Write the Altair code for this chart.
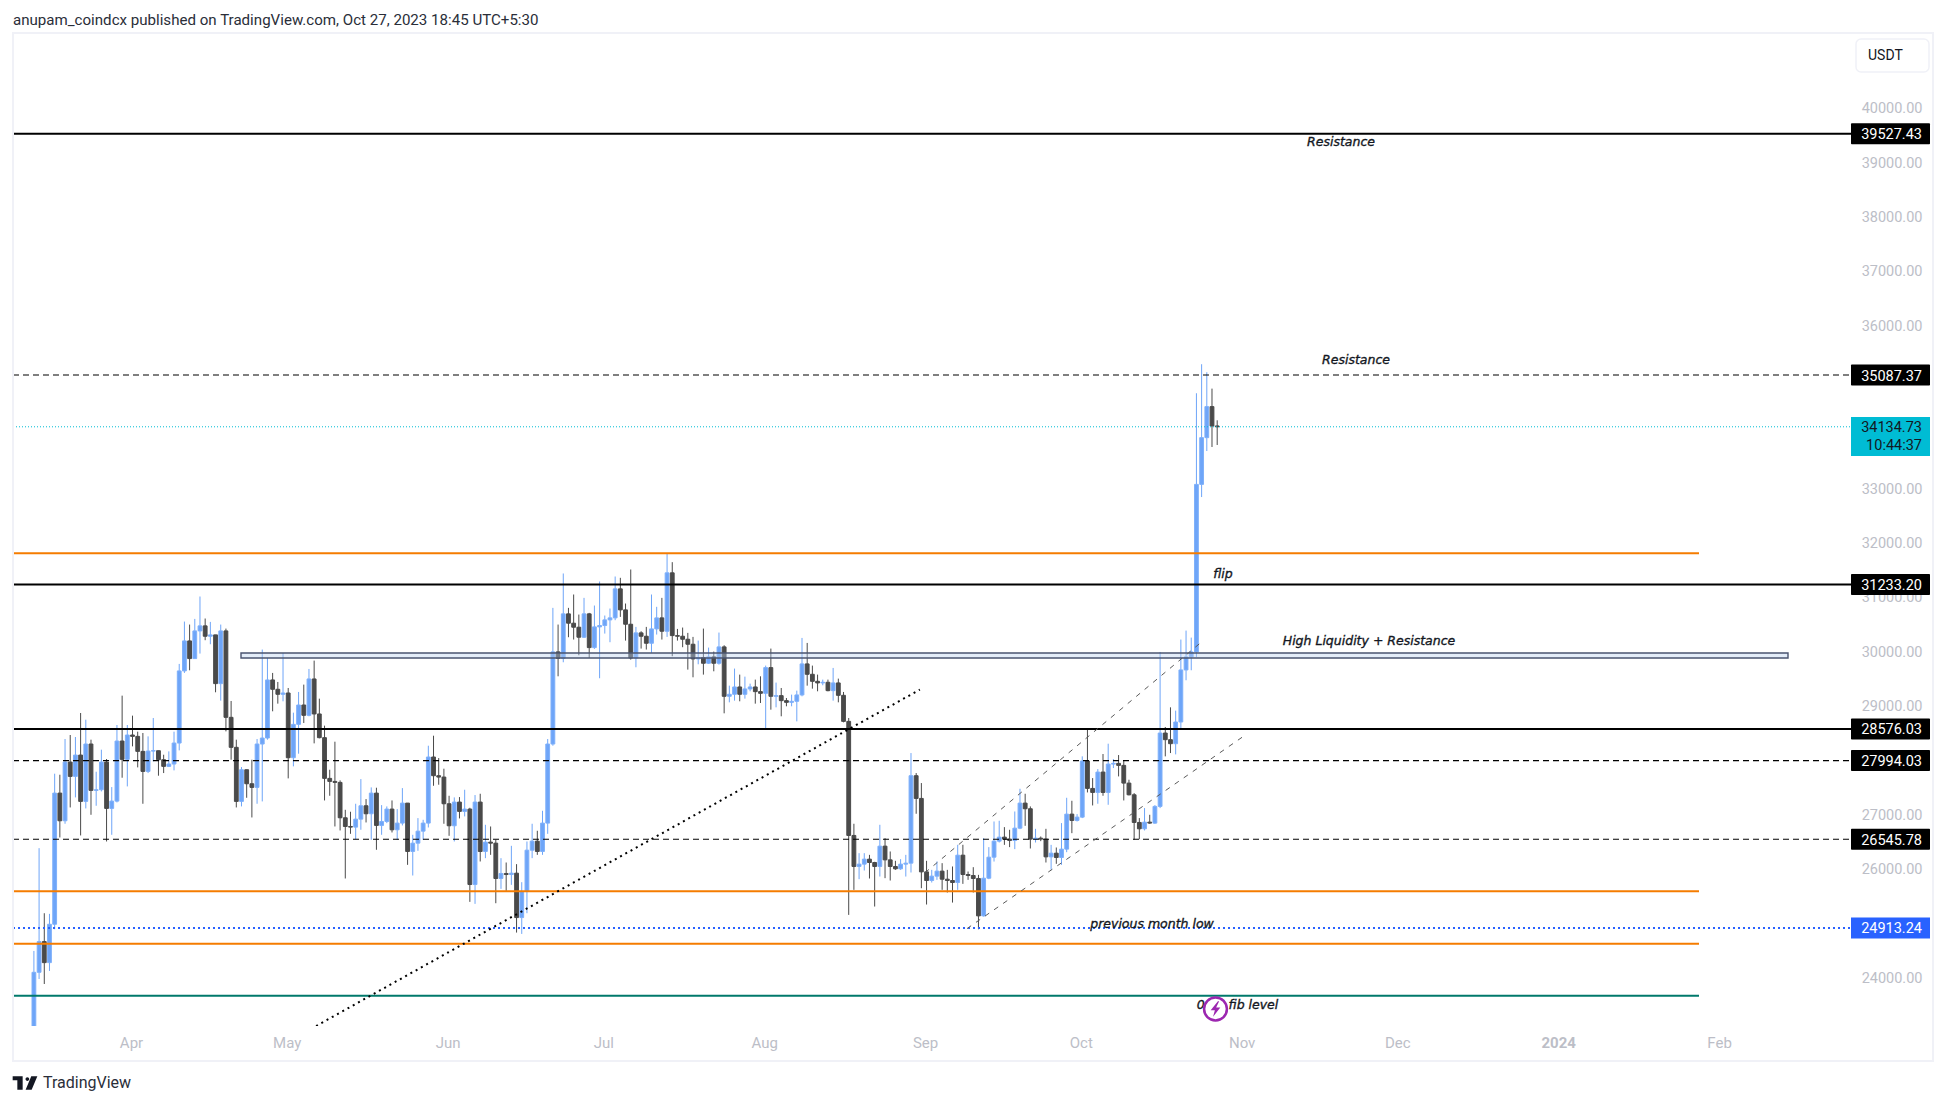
import altair as alt
import pandas as pd

first_open = 20630
close = [
 # Mar 13-31
 24098,24663,24276,24982,27395,26886,27966,27702,28095,27242,28298,27445,27457,27966,27113,27248,28353,28016,28464,
 # Apr
 28439,28163,27794,28169,28175,28009,27887,27930,28316,29643,30195,29870,30379,30472,30281,30306,29409,30379,28789,28237,27242,27825,27567,27500,28298,28408,29477,29305,29213,29237,
 # May
 28046,28660,29016,28826,29495,28851,28415,27666,27610,27592,26941,26781,26769,26916,27162,27015,27395,26800,26873,27101,26720,26843,27211,26321,26474,26695,26843,28059,27715,27690,27199,
 # Jun
 26794,27230,27058,27101,25713,27230,26321,26493,26474,25824,25916,25897,25922,25105,25584,26345,26511,26321,26843,28298,29993,29876,30693,30521,30447,30263,30693,30072,30453,30478,
 # Jul
 30582,30619,31153,30766,30502,29882,30343,30281,30152,30416,30619,30373,31448,30293,30281,30226,30134,29864,29888,29784,29901,29784,30085,29176,29213,29348,29213,29311,29348,29262,29231,
 # Aug
 29704,29176,29188,29096,29065,29084,29201,29772,29581,29452,29422,29434,29280,29422,29194,28715,26616,26045,26088,26180,26118,26045,26419,26167,26045,26002,26088,26106,27715,27297,25946,
 # Sep
 25787,25867,25959,25811,25787,25750,26253,25897,25879,25824,25136,25829,26216,26511,26585,26548,26523,26750,27211,27107,26548,26566,26548,26222,26290,26210,26364,27008,26892,26953,
 # Oct 1-27
 27985,27481,27407,27782,27407,27929,27942,27905,27579,27364,26855,26738,26861,26843,27150,28500,28378,28304,28703,29661,29900,29992,33075,33935,34506,34150,34134.73,
]
high = [
 24491,26382,25185,25173,27752,27733,28390,28464,28427,28869,28746,28378,27788,28194,28022,27506,28648,29188,28648,
 28820,28525,28501,28439,28777,28175,28101,28163,28525,29772,30551,30496,30600,31012,30607,30545,30306,30496,30422,29090,28378,27874,27825,28009,28390,30036,29882,29606,29440,29974,
 29329,28875,29256,29391,29679,29833,29133,28636,27825,28341,27629,27088,27052,27199,27653,27285,27500,27494,27174,27150,27260,27101,27487,27211,26628,26935,26904,28267,28451,28040,27844,
 27346,27316,27322,27457,27125,27359,27383,26812,26781,26536,26198,26118,26425,26088,25756,26505,26831,26702,27070,28390,30803,30496,31436,30803,31049,30680,30987,30711,30846,31288,
 30662,30791,31380,31356,30883,31509,30453,30373,30453,31049,30822,30987,31804,31644,30416,30441,30343,30269,30201,30422,30072,29999,30349,30115,29372,29686,29575,29538,29409,29483,29544,
 29741,30054,29428,29329,29145,29207,29280,30250,30158,29741,29575,29483,29483,29698,29501,29256,28777,26831,26290,26290,26259,26131,26812,26566,26321,26149,26180,26259,28132,27764,27580,
 26149,25983,26137,26106,25983,26045,26444,26444,25952,26032,25891,26566,26401,26873,26886,26769,26720,27057,27475,27383,27150,26738,26597,26738,26443,26394,26843,27309,27254,27008,
 28071,28580,27671,27837,28114,28304,28021,28095,27985,27641,27395,26935,27119,26996,27174,29992,28611,28973,28912,30220,30385,30256,34752,35286,35138,34837,34254,
]
low = [
 20500,23975,23883,24123,24890,26579,26831,27131,27316,26616,27113,26996,27162,27426,26505,26628,27223,27678,27518,
 28255,27868,27199,27764,27979,27715,27764,27874,27813,28181,29606,29655,29864,29962,30208,30134,29250,29096,28531,28009,27131,27150,27309,26947,27199,27242,28378,28900,29041,29084,
 27666,27887,28120,28685,28808,28310,28402,27260,27346,26781,26708,25824,26646,26548,26720,26855,26536,26352,26628,26843,26671,26536,26800,26075,25879,26333,26536,26763,27530,27549,26831,
 26609,26505,26929,26966,25394,25357,26137,26198,26259,25369,25633,25596,25707,24829,24804,25185,26198,26259,26259,26646,28267,29544,29802,30263,30220,29931,30250,29882,30048,29508,
 30330,30171,30576,30637,30201,29851,29710,30054,30036,29974,30312,30220,30269,29913,30201,30079,29667,29526,29765,29575,29772,29636,29759,28863,29065,29096,29084,29133,29268,29041,29053,
 28593,28930,28973,28808,28992,28992,28715,29176,29372,29317,29268,29379,29268,29096,29065,28697,25154,25615,25811,25971,25824,25308,25860,25830,25787,25983,25983,25860,25934,27015,25645,
 25345,25750,25799,25615,25566,25381,25615,25725,25799,25566,24890,25123,25811,26136,26486,26443,26401,26364,26732,26793,26376,26486,26511,26118,25983,26094,26075,26308,26658,26873,
 26935,27407,27168,27199,27346,27180,27856,27702,27260,27352,26536,26548,26708,26830,26830,27119,28071,28132,28107,28592,29471,29655,29900,32842,33689,33763,33800,
]
dates = pd.date_range("2023-03-13", periods=len(close), freq="D").strftime("%Y-%m-%d")
opens = [first_open] + close[:-1]

candles = pd.DataFrame({"date": dates, "open": opens, "close": close, "high": high, "low": low})
candles["dir"] = ["up" if c >= o else "down" for c, o in zip(close, opens)]

levels_long_solid = [39527.43, 31233.20, 28576.03]
levels_long_dash = [35087.37, 27994.03, 26545.78]
levels_orange = [31810, 25590, 24625]
level_teal = 23665
level_blue = 24913.24
level_last = 34134.73
tags = [39527.43, 35087.37, 31233.20, 28576.03, 27994.03, 26545.78]

month_ticks = ["2023-04-01","2023-05-01","2023-06-01","2023-07-01","2023-08-01","2023-09-01",
               "2023-10-01","2023-11-01","2023-12-01","2024-01-01","2024-02-01"]
price_ticks = [24000,26000,27000,29000,30000,31000,32000,33000,36000,37000,38000,39000,40000]

trend_dates = ["2023-05-06T09:00:00Z", "2023-08-30T17:00:00Z"]
trend_prices = [23110, 29299]
chan_up_dates = ["2023-08-31T17:00:00Z", "2023-10-23T17:00:00Z"]
chan_up_prices = [25931, 30153]
chan_lo_dates = ["2023-09-08T19:00:00Z", "2023-10-31T23:00:00Z"]
chan_lo_prices = [24902, 28433]

W, H = 1838, 993
OX, OY = 13, 33  # plot origin in the picture
FONT = "Roboto"
UP, DOWN = "#6ea5f8", "#4a4a4a"

x_enc = alt.X("date:T", title=None,
    scale=alt.Scale(type="utc", padding=0, domain=["2023-03-08T23:20:00Z", "2024-02-26T03:00:00Z"]),
    axis=alt.Axis(values=month_ticks, domain=False, ticks=False, grid=False, labelPadding=9.5, labelOffset=-1.5,
                  labelFont=FONT, labelFontSize=15, labelColor="#bcbec7", labelOverlap=False,
                  labelFlush=False,
                  labelExpr="utcmonth(datum.value)==0 ? '2024' : utcFormat(datum.value,'%b')",
                  labelFontWeight={"condition": {"test": "utcmonth(datum.value)==0", "value": "bold"}, "value": "normal"}))
y_scale = alt.Scale(domain=[23110, 41380], nice=False, zero=False)
y_axis = alt.Axis(values=price_ticks, orient="right", domain=False, ticks=False, grid=False,
                  format=".2f", labelAlign="right", labelPadding=71, labelOffset=0.7, labelFont=FONT, labelFontSize=14.5,
                  labelColor="#bcbec7", labelOverlap=False, labelFlush=False)
color_enc = alt.Color("dir:N", legend=None, scale=alt.Scale(domain=["up", "down"], range=[UP, DOWN]))

def Y(field="p"):
    return alt.Y(f"{field}:Q", scale=y_scale, axis=y_axis, title=None)

wicks = alt.Chart(candles).mark_rule(strokeWidth=1, clip=True).encode(x=x_enc, y=Y("low"), y2="high:Q", color=color_enc)
bodies = alt.Chart(candles).mark_bar(size=3.8, strokeWidth=1, clip=True, orient="vertical").encode(
    x=x_enc, y=Y("open"), y2="close:Q",
    color=color_enc, stroke=alt.Stroke("dir:N", legend=None, scale=alt.Scale(domain=["up", "down"], range=["#7fb0fa", DOWN])))

def hlines(prices, color, width, dash=None, x2=W):
    kw = {"strokeDash": dash} if dash else {}
    return alt.Chart(pd.DataFrame({"p": prices})).mark_rule(color=color, strokeWidth=width, **kw).encode(
        y=Y(), x=alt.value(0), x2=alt.value(x2))

def tline(ds, ps, color, width, dash):
    return alt.Chart(pd.DataFrame({"date": ds, "p": ps})).mark_line(color=color, strokeWidth=width, strokeDash=dash, clip=True).encode(
        x=x_enc, y=Y())

def label(text, px, py, size=12.5, color="#131722", align="center", font="DejaVu Sans", style="italic", stroke=0.35):
    kw = {"stroke": color, "strokeWidth": stroke} if stroke else {}
    return alt.Chart(pd.DataFrame({"t": [text]})).mark_text(
        font=font, fontSize=size, color=color, align=align, baseline="middle", fontStyle=style, **kw
    ).encode(text="t:N", x=alt.value(px - OX), y=alt.value(py - OY))

END = 1699 - OX
box = alt.Chart(pd.DataFrame({"p": [29974], "p2": [29882]})).mark_rect(
    fill="#bcd2f0", fillOpacity=0.4, stroke="#4a5470", strokeWidth=1.4
).encode(y=Y(), y2="p2:Q", x=alt.value(241 - OX), x2=alt.value(1788 - OX))

tag_rects = alt.Chart(pd.DataFrame({"p": tags})).mark_rect(color="#000000", height=21, cornerRadius=1).encode(
    y=Y(), x=alt.value(1851 - OX), x2=alt.value(1930 - OX))
tag_text = alt.Chart(pd.DataFrame({"p": tags, "t": [f"{v:.2f}" for v in tags]})).mark_text(
    font=FONT, fontSize=14.5, color="#ffffff", align="right", baseline="middle", dy=1.5
).encode(y=Y(), x=alt.value(1922 - OX), text="t:N")
blue_rect = alt.Chart(pd.DataFrame({"p": [level_blue]})).mark_rect(color="#2962ff", height=21).encode(
    y=Y(), x=alt.value(1851 - OX), x2=alt.value(1930 - OX))
blue_text = alt.Chart(pd.DataFrame({"p": [level_blue], "t": [f"{level_blue:.2f}"]})).mark_text(
    font=FONT, fontSize=14.5, color="#ffffff", align="right", baseline="middle", dy=1.5
).encode(y=Y(), x=alt.value(1922 - OX), text="t:N")
last_rect = alt.Chart(pd.DataFrame({"a": [1]})).mark_rect(color="#00bcd4").encode(
    x=alt.value(1851 - OX), x2=alt.value(1930 - OX), y=alt.value(417 - OY), y2=alt.value(456 - OY))

frame = alt.Chart(pd.DataFrame({"a": [1]})).mark_rect(fill="transparent", stroke="#f0f1f7", strokeWidth=2).encode(
    x=alt.value(0), x2=alt.value(1933 - OX), y=alt.value(0), y2=alt.value(1061 - OY))
usdt_box = alt.Chart(pd.DataFrame({"a": [1]})).mark_rect(fill="#ffffff", stroke="#f0f1f7", strokeWidth=1.5, cornerRadius=5).encode(
    x=alt.value(1856 - OX), x2=alt.value(1929 - OX), y=alt.value(39 - OY), y2=alt.value(72 - OY))

def symbol(px, py, size, shape, fill, stroke=None, sw=0):
    kw = {"stroke": stroke, "strokeWidth": sw} if stroke else {"strokeWidth": 0}
    return alt.Chart(pd.DataFrame({"a": [1]})).mark_point(shape=shape, size=size, filled=True, fill=fill, opacity=1, **kw).encode(
        x=alt.value(px - OX), y=alt.value(py - OY))

LOGO = ("M-.987 -.533H-.187V.533H-.613V-.213H-.987Z"
        "M.04 -.32a.15 .15 0 1 0 .3 0a.15 .15 0 1 0 -.3 0Z"
        "M.987 -.533L.533 .533H.05L.5 -.533Z")
BOLT = "M.3 -.95L-.6 .15H-.08L-.3 .95L.6 -.2H.08L.45 -.95Z"

chart = alt.layer(
    wicks, bodies,
    hlines(levels_long_solid, "#000000", 2),
    hlines(levels_long_dash, "#000000", 1.2, [6, 4]),
    hlines(levels_orange, "#f57c00", 2, x2=END),
    hlines([level_teal], "#00796b", 2, x2=END),
    hlines([level_blue], "#2962ff", 2, [2, 3]),
    hlines([level_last], "#00bcd4", 1, [1, 2]),
    box,
    tline(trend_dates, trend_prices, "#000000", 2, [2, 4]),
    tline(chan_up_dates, chan_up_prices, "#5a5a5a", 1, [5, 6]),
    tline(chan_lo_dates, chan_lo_prices, "#5a5a5a", 1, [5, 6]),
    tag_rects, tag_text, blue_rect, blue_text, last_rect,
    label("34134.73", 1922, 428, 14.5, "#131722", "right", FONT, "normal", 0),
    label("10:44:37", 1922, 446, 14.5, "#131722", "right", FONT, "normal", 0),
    frame, usdt_box,
    label("USDT", 1868, 56, 14, "#131722", "left", FONT, "normal", 0),
    label("Resistance", 1341, 141.5),
    label("Resistance", 1356, 360),
    label("flip", 1223, 574),
    label("High Liquidity + Resistance", 1369, 641),
    label("previous month low", 1152, 924),
    label("0.65 fib level", 1237.5, 1004.5),
    symbol(1215.5, 1009, 520, "circle", "#ffffff", "#9c27b0", 2.5),
    symbol(1215.5, 1009, 260, BOLT, "#9c27b0"),
    label("anupam_coindcx published on TradingView.com, Oct 27, 2023 18:45 UTC+5:30", 13, 19.5, 15.1, "#2a2e39", "left", FONT, "normal", 0),
    symbol(25, 1083, 625, LOGO, "#131722"),
    label("TradingView", 43, 1083, 16, "#2a2e39", "left", FONT, "normal", 0),
).properties(
    width=W, height=H,
    padding={"left": 5, "top": 25, "right": 87, "bottom": 68},
    autosize=alt.AutoSizeParams(type="none"),
    background="#ffffff",
).configure_view(stroke=None)

chart.save("out.html", embed_options={"renderer": "svg", "actions": False})
